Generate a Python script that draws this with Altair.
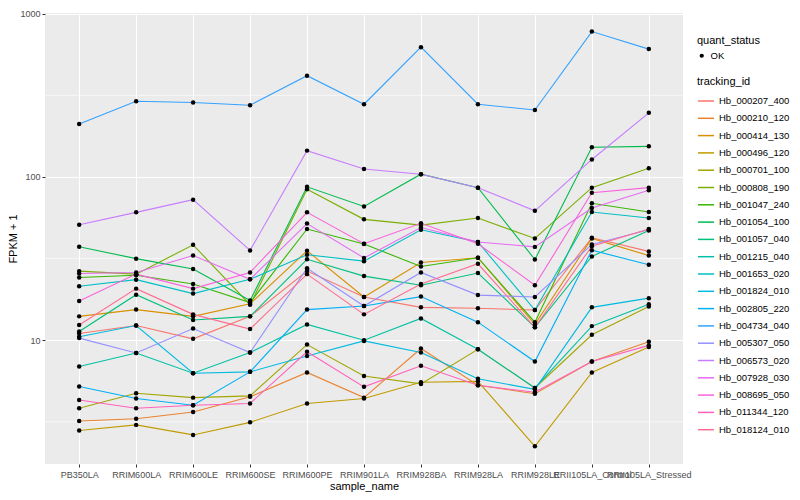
import altair as alt
import pandas as pd

samples = ["PB350LA", "RRIM600LA", "RRIM600LE", "RRIM600SE", "RRIM600PE", "RRIM901LA",
           "RRIM928BA", "RRIM928LA", "RRIM928LE", "RRII105LA_Control", "RRII105LA_Stressed"]

tracking_ids = ["Hb_000207_400", "Hb_000210_120", "Hb_000414_130", "Hb_000496_120", "Hb_000701_100",
                "Hb_000808_190", "Hb_001047_240", "Hb_001054_100", "Hb_001057_040", "Hb_001215_040",
                "Hb_001653_020", "Hb_001824_010", "Hb_002805_220", "Hb_004734_040", "Hb_005307_050",
                "Hb_006573_020", "Hb_007928_030", "Hb_008695_050", "Hb_011344_120", "Hb_018124_010"]

colors = ["#F8766D", "#EA8331", "#D89000", "#C09B00", "#A3A500", "#7CAE00", "#39B600", "#00BB4E",
          "#00BF7D", "#00C1A3", "#00BFC4", "#00BAE0", "#00B0F6", "#35A2FF", "#9590FF", "#C77CFF",
          "#E76BF3", "#FA62DB", "#FF62BC", "#FF6C91"]

hb_000207_400 = [11.0, 12.3, 10.2, 14.0, 26.5, 18.4, 15.9, 15.7, 15.3, 42.4, 35.0]
hb_000210_120 = [3.2, 3.3, 3.63, 4.5, 6.35, 4.45, 8.9, 5.3, 4.7, 7.4, 9.8]
hb_000414_130 = [14.0, 15.4, 14.0, 16.7, 35.3, 18.4, 29.9, 32.0, 12.5, 42.0, 33.0]
hb_000496_120 = [2.8, 3.03, 2.63, 3.14, 4.1, 4.4, 5.53, 5.6, 2.24, 6.35, 9.1]
hb_000701_100 = [3.83, 4.73, 4.45, 4.56, 9.4, 6.04, 5.4, 8.8, 5.1, 10.8, 16.1]
hb_000808_190 = [26.5, 25.4, 38.4, 16.5, 84.0, 55.0, 50.7, 56.0, 42.0, 86.0, 113.0]
hb_001047_240 = [24.2, 25.0, 22.1, 17.0, 48.0, 38.8, 28.3, 32.0, 12.9, 69.0, 61.0]
hb_001054_100 = [37.4, 31.6, 27.3, 17.5, 87.0, 66.0, 104.0, 86.0, 31.2, 152.0, 154.0]
hb_001057_040 = [11.3, 19.0, 13.3, 14.0, 31.3, 24.7, 21.7, 25.8, 12.0, 32.6, 47.0]
hb_001215_040 = [6.9, 8.35, 6.28, 8.4, 12.5, 10.0, 13.6, 8.8, 5.1, 12.2, 16.6]
hb_001653_020 = [21.4, 23.5, 19.3, 23.6, 33.4, 30.5, 47.5, 40.0, 15.3, 61.0, 56.0]
hb_001824_010 = [10.5, 12.3, 6.28, 6.4, 8.0, 9.9, 8.4, 5.8, 5.0, 15.9, 18.1]
hb_002805_220 = [5.2, 4.4, 4.0, 6.4, 15.4, 16.2, 18.5, 12.9, 7.4, 35.6, 29.0]
hb_004734_040 = [211.0, 291.0, 286.0, 275.0, 417.0, 279.0, 624.0, 279.0, 257.0, 777.0, 607.0]
hb_005307_050 = [10.3, 8.35, 11.8, 8.4, 27.6, 16.2, 26.0, 18.9, 18.4, 38.6, 47.5]
hb_006573_020 = [51.0, 60.7, 72.6, 35.5, 145.0, 112.0, 104.0, 86.0, 62.0, 128.0, 247.0]
hb_007928_030 = [25.6, 26.0, 33.0, 23.6, 51.8, 31.9, 49.0, 40.0, 37.3, 64.5, 83.0]
hb_008695_050 = [17.4, 25.4, 20.7, 26.0, 60.7, 39.0, 52.0, 39.0, 21.7, 80.0, 86.0]
hb_011344_120 = [4.3, 3.83, 4.0, 4.1, 8.5, 5.18, 6.97, 5.3, 4.8, 7.4, 9.3]
hb_018124_010 = [12.4, 20.7, 14.4, 11.7, 25.4, 14.4, 22.1, 29.4, 12.0, 37.7, 48.0]

series = [hb_000207_400, hb_000210_120, hb_000414_130, hb_000496_120, hb_000701_100,
          hb_000808_190, hb_001047_240, hb_001054_100, hb_001057_040, hb_001215_040,
          hb_001653_020, hb_001824_010, hb_002805_220, hb_004734_040, hb_005307_050,
          hb_006573_020, hb_007928_030, hb_008695_050, hb_011344_120, hb_018124_010]

y_major = [10, 100, 1000]
y_minor = [3.1623, 31.623, 316.23]
y_domain = [1.745, 1010]

rows = []
for tid, vals in zip(tracking_ids, series):
    for s, v in zip(samples, vals):
        rows.append({"tracking_id": tid, "sample_name": s, "fpkm": v, "quant_status": "OK"})
df = pd.DataFrame(rows)
minor_df = pd.DataFrame({"fpkm": y_minor})

FONT = "Liberation Sans"

yscale = alt.Scale(type="log", domain=y_domain, nice=False)
xaxis = alt.Axis(labelAngle=0, labelOverlap=False, grid=True, gridColor="white",
                 gridWidth=1.1, domain=False, tickColor="#333333", tickSize=3,
                 labelColor="#4D4D4D", labelFontSize=9, labelPadding=3,
                 titleFontSize=11, titleFontWeight="normal", titleColor="black",
                 titlePadding=1)
yaxis = alt.Axis(values=y_major, format="d", grid=True, gridColor="white",
                 gridWidth=1.1, domain=False, tickColor="#333333", tickSize=3,
                 labelColor="#4D4D4D", labelFontSize=9, labelPadding=2,
                 titleFontSize=11, titleFontWeight="normal", titleColor="black",
                 titlePadding=1)
xenc = alt.X("sample_name:N", sort=samples, title="sample_name",
             scale=alt.Scale(type="point", padding=0.6), axis=xaxis)
yenc = alt.Y("fpkm:Q", scale=yscale, title="FPKM + 1", axis=yaxis)

minor = alt.Chart(minor_df).mark_rule(color="white", strokeWidth=0.6).encode(y=yenc)

lines = alt.Chart(df).mark_line(strokeWidth=1.1).encode(
    x=xenc,
    y=yenc,
    color=alt.Color("tracking_id:N", scale=alt.Scale(domain=tracking_ids, range=colors),
                    legend=alt.Legend(title="tracking_id", orient="none", legendX=652, legendY=63,
                                      symbolType="stroke", symbolStrokeWidth=1.5,
                                      symbolSize=260, rowPadding=3.3)),
    detail="tracking_id:N",
)

points = alt.Chart(df).mark_point(filled=True, size=20, opacity=1, color="black").encode(
    x=xenc,
    y=yenc,
    shape=alt.Shape("quant_status:N", scale=alt.Scale(range=["circle"]),
                    legend=alt.Legend(title="quant_status", orient="none", legendX=652, legendY=22,
                                      symbolSize=18, symbolFillColor="black")),
)

chart = alt.layer(minor, lines, points).properties(
    width=638, height=451,
    autosize="none",
    padding={"left": 37, "top": 5, "right": 109, "bottom": 28},
).configure(
    font=FONT
).configure_view(
    fill="#EBEBEB", stroke=None
).configure_legend(
    titleFontSize=11, titleFontWeight="normal", titleColor="black",
    labelFontSize=9.5, labelColor="black", titlePadding=5
)

chart.save("out.html", embed_options={"renderer": "svg", "actions": False})
